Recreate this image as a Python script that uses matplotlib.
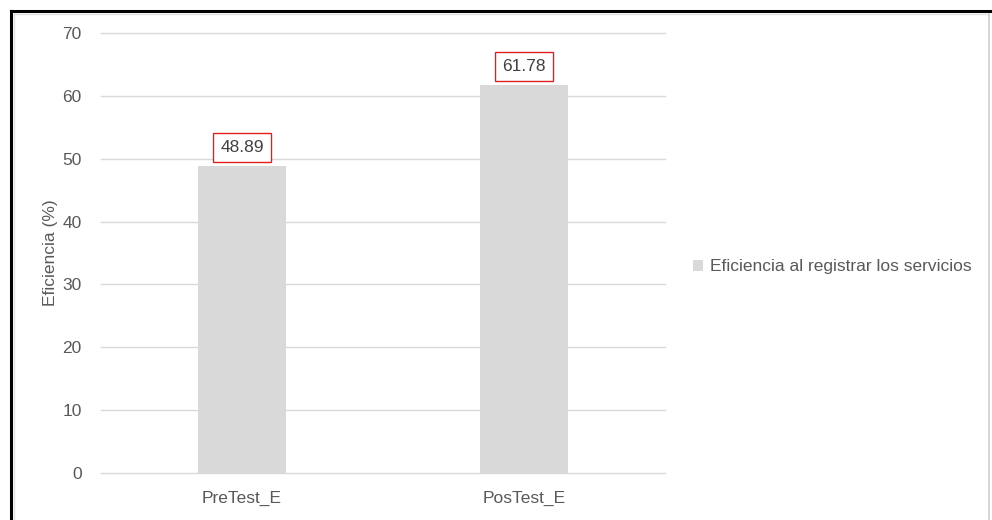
import matplotlib.pyplot as plt
from matplotlib.lines import Line2D

categories = ["PreTest_E", "PosTest_E"]
values = [48.89, 61.78]
series_name = "Eficiencia al registrar los servicios"

plt.rcParams['font.family'] = ['Liberation Sans', 'DejaVu Sans']
text_color = '#595959'
fs = 12.5

W, H = 992, 520
fig = plt.figure(figsize=(W / 100, H / 100), dpi=100)
ax = fig.add_axes([101 / W, 1 - 473 / H, 564 / W, 440 / H])

x = range(len(categories))
ax.bar(x, values, width=0.31, color='#d9d9d9', label=series_name, zorder=2)

ax.set_xlim(-0.5, 1.5)
ax.set_ylim(0, 70)
ax.set_yticks(range(0, 71, 10))
ax.set_xticks(list(x))
ax.set_xticklabels(categories)
ax.grid(axis='y', color='#d9d9d9', linewidth=1, zorder=0)
for gl in ax.get_ygridlines():
    gl.set_clip_on(False)
ax.tick_params(length=0, colors=text_color, labelsize=fs, pad=14)
ax.tick_params(axis='x', pad=13)
for s in ax.spines.values():
    s.set_visible(False)
ax.set_ylabel("Eficiencia (%)", color=text_color, fontsize=fs, labelpad=3)

# value labels in red boxes
for xi, v in zip(x, values):
    ax.annotate(f"{v:.2f}", (xi, v), xytext=(0, 8), textcoords='offset points',
                ha='center', va='bottom', fontsize=fs, color='#404040',
                bbox=dict(boxstyle='square,pad=0.4', fc='white', ec='#e02020', lw=1))

leg = fig.legend(loc='center left', bbox_to_anchor=(677 / W, 1 - 267 / H),
                 frameon=False, fontsize=fs, handlelength=0.6, handleheight=0.6,
                 handletextpad=0.4)
for t in leg.get_texts():
    t.set_color(text_color)

# outer frame: black top/left, light gray inner chart-area border
def px_line(xs, ys, **kw):
    fig.add_artist(Line2D([p / W for p in xs], [1 - p / H for p in ys],
                          transform=fig.transFigure, **kw))

px_line([11, W], [11, 11], color='black', lw=2.2)
px_line([11, 11], [11, H], color='black', lw=2.2)
px_line([14, 989], [14, 14], color='#e0e0e0', lw=1)
px_line([14, 14], [14, H], color='#e0e0e0', lw=1)
px_line([989, 989], [14, H], color='#d0d0d0', lw=1.2)

fig.savefig("out.png", dpi=100)
